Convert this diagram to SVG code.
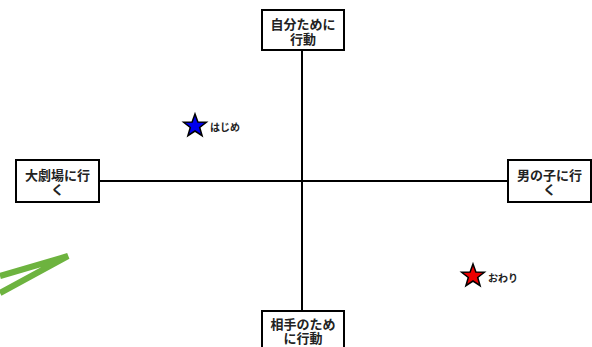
<svg xmlns="http://www.w3.org/2000/svg" width="592" height="347" viewBox="0 0 592 347">
<style>
.box{fill:#fff;stroke:#000;stroke-width:2}
.lbl{font-family:"Noto Sans CJK JP","Noto Sans",sans-serif;font-size:13px;font-weight:bold;text-anchor:middle;fill:#222}
.small{font-family:"Noto Sans CJK JP","Noto Sans",sans-serif;font-size:10px;font-weight:bold;fill:#222}
.axis{stroke:#000;stroke-width:2;fill:none}
.star{stroke:#000;stroke-width:1.5}
</style>
<rect width="592" height="347" fill="#fff"/>
<g id="connectors">
<line class="axis" x1="302" y1="50" x2="302" y2="311"/>
<line class="axis" x1="99" y1="181" x2="508" y2="181"/>
</g>
<g id="green">
<polyline points="0,293 68,256 0,276" fill="none" stroke="#6db33f" stroke-width="6" stroke-linejoin="miter"/>
</g>
<g id="top">
<rect class="box" x="262" y="10" width="82" height="40"/>
<text class="lbl" x="303" y="29">自分ために</text>
<text class="lbl" x="303" y="44">行動</text>
</g>
<g id="left">
<rect class="box" x="16" y="160" width="83" height="42"/>
<text class="lbl" x="57.5" y="180">大劇場に行</text>
<text class="lbl" x="57.5" y="194">く</text>
</g>
<g id="right">
<rect class="box" x="508" y="160" width="83" height="42"/>
<text class="lbl" x="549.5" y="180">男の子に行</text>
<text class="lbl" x="549.5" y="194">く</text>
</g>
<g id="bottom">
<rect class="box" x="262" y="311" width="82" height="45"/>
<text class="lbl" x="303" y="329">相手のため</text>
<text class="lbl" x="303" y="343">に行動</text>
</g>
<g id="start">
<polygon class="star" fill="#0000ee" points="195,114 197.9,122 206.4,122.3 199.7,127.5 202.1,135.7 195,131 187.9,135.7 190.3,127.5 183.6,122.3 192.1,122"/>
<text class="small" x="210" y="131">はじめ</text>
</g>
<g id="end">
<polygon class="star" fill="#ee0000" points="473,264 475.9,272 484.4,272.3 477.7,277.5 480.1,285.7 473,281 465.9,285.7 468.3,277.5 461.6,272.3 470.1,272"/>
<text class="small" x="488" y="282">おわり</text>
</g>
</svg>
